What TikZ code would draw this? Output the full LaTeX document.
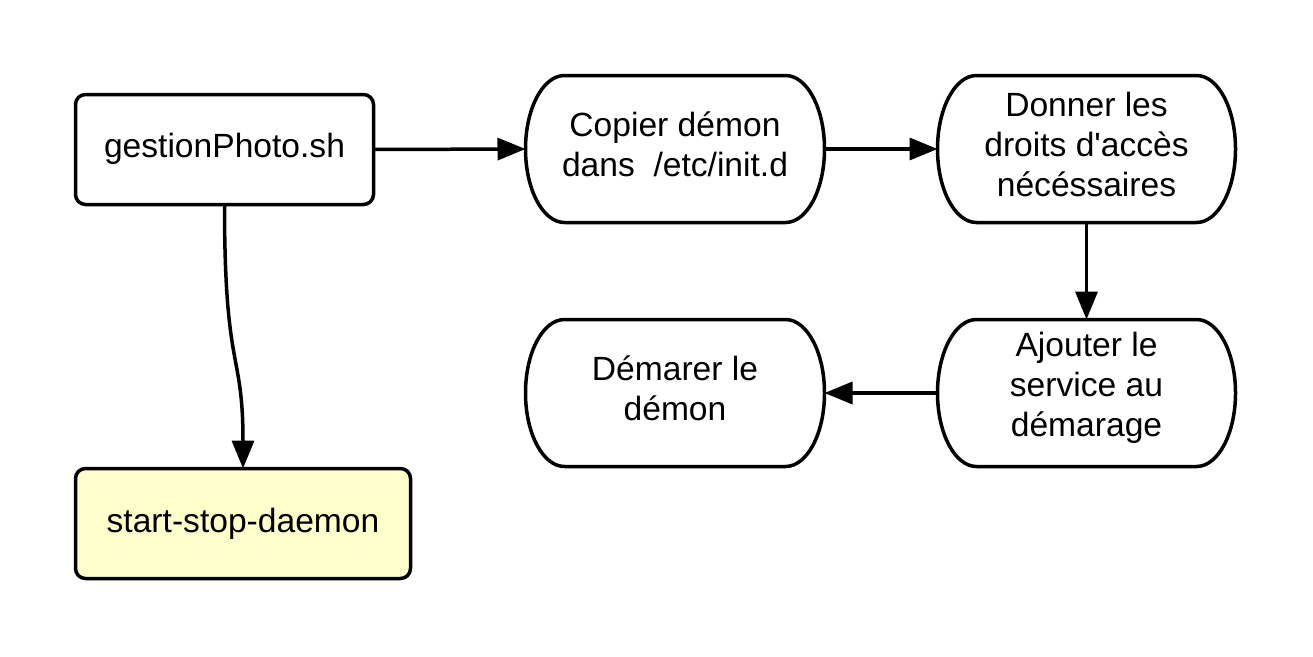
\documentclass[tikz,border=0pt]{standalone}
\usepackage{fontspec}
\setmainfont{Liberation Sans}
\usetikzlibrary{arrows.meta,calc}
\tikzset{
  shapeline/.style={line width=3.5pt, line join=round},
  anchorbox/.style={inner sep=0pt, outer sep=0pt, draw=none},
  rbox/.style={anchorbox, draw, shapeline, rounded corners=10pt},
  txt/.style={inner sep=0pt, align=center, font=\fontsize{33.6pt}{40pt}\selectfont},
  conn/.style={line width=3.5pt, -{Triangle[length=28pt, width=22pt]}},
}
\newcommand{\stadiumoutline}[1]{%
  \draw[shapeline] ([xshift=39pt]#1.north west) -- ([xshift=-39pt]#1.north east)
    arc[start angle=90, end angle=-90, x radius=39pt, y radius=73.5pt]
    -- ([xshift=39pt]#1.south west)
    arc[start angle=270, end angle=90, x radius=39pt, y radius=73.5pt] -- cycle;}
\begin{document}
\begin{tikzpicture}[x=1pt, y=-1pt]
\useasboundingbox (0,0) rectangle (1313,656);
% rectangles
\node[rbox, minimum width=298pt, minimum height=110pt] (gest) at (224.5,149.5) {};
\node[rbox, fill={rgb,255:red,255;green,255;blue,204}, minimum width=335pt, minimum height=110pt] (ssd) at (243,523.5) {};
% stadium nodes
\node[anchorbox, minimum width=299pt, minimum height=147pt] (copier) at (675,149) {};
\node[anchorbox, minimum width=298pt, minimum height=147pt] (donner) at (1086.5,149) {};
\node[anchorbox, minimum width=298pt, minimum height=147pt] (ajouter) at (1086.5,393) {};
\node[anchorbox, minimum width=299pt, minimum height=147pt] (demarer) at (675,393) {};
\stadiumoutline{copier}
\stadiumoutline{donner}
\stadiumoutline{ajouter}
\stadiumoutline{demarer}
% texts
\node[txt] (tgest) at ([yshift=1pt]gest.center) {gestionPhoto.sh};
\node[txt] (tssd) at ([yshift=0pt]ssd.center) {start-stop-daemon};
\node[txt] (tcopier) at ([yshift=5pt]copier.center) {Copier démon\\dans\ \ /etc/init.d};
\node[txt] (tdonner) at ([yshift=5pt]donner.center) {Donner les\\droits d\textquotesingle accès\\nécéssaires};
\node[txt] (tajouter) at ([yshift=5pt]ajouter.center) {Ajouter le\\service au\\démarage};
\node[txt] (tdemarer) at ([yshift=5pt]demarer.center) {Démarer le\\démon};
% connectors
\draw[conn] (gest.east) -- (copier.west);
\draw[conn] (copier.east) -- (donner.west);
\draw[conn] (donner.south) -- (ajouter.north);
\draw[conn] (ajouter.west) -- (demarer.east);
\draw[conn] (gest.south) .. controls ($(gest.south)+(0,170)$) and ($(ssd.north)+(0,-120)$) .. (ssd.north);
\end{tikzpicture}
\end{document}
